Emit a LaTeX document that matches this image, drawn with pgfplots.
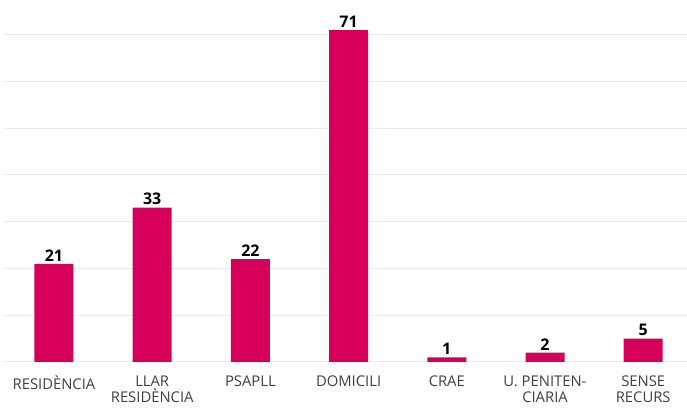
\documentclass[border=0pt]{standalone}
\usepackage{pgfplots}
\pgfplotsset{compat=1.18}
\usepackage{fontspec}
\setmainfont{Open Sans}
\definecolor{barc}{HTML}{D6005A}
\definecolor{gridc}{HTML}{EBEBEB}
\definecolor{labc}{HTML}{404040}
\begin{document}
\begin{tikzpicture}
\useasboundingbox (0,0) rectangle (687pt,411pt);
\begin{axis}[
  at={(4pt,49pt)}, anchor=south west,
  scale only axis,
  width=683pt, height=350.7pt,
  xmin=-0.509, xmax=6.446,
  ymin=0, ymax=75,
  axis line style={draw=none},
  ytick={0,10,...,70},
  yticklabels={},
  ymajorgrids,
  grid style={gridc, line width=1pt},
  xtick={0,...,6},
  xticklabels={RESIDÈNCIA, {LLAR\\RESIDÈNCIA}, PSAPLL, DOMICILI, CRAE, {U. PENITEN-\\CIARIA}, {SENSE\\RECURS}},
  xticklabel style={align=center, font=\fontsize{14.8}{16}\selectfont, text=labc, anchor=north, yshift=-10pt},
  major tick length=0pt,
  /pgf/number format/assume math mode=true,
  nodes near coords,
  every node near coord/.append style={font=\fontsize{16}{18}\selectfont\bfseries, text=black, anchor=south, yshift=-1pt},
]
\addplot[ybar, bar width=39pt, fill=barc, draw=none] coordinates {
(0,21) (1,33) (2,22) (3,71) (4,1) (5,2) (6,5)
};
\end{axis}
\end{tikzpicture}
\end{document}
